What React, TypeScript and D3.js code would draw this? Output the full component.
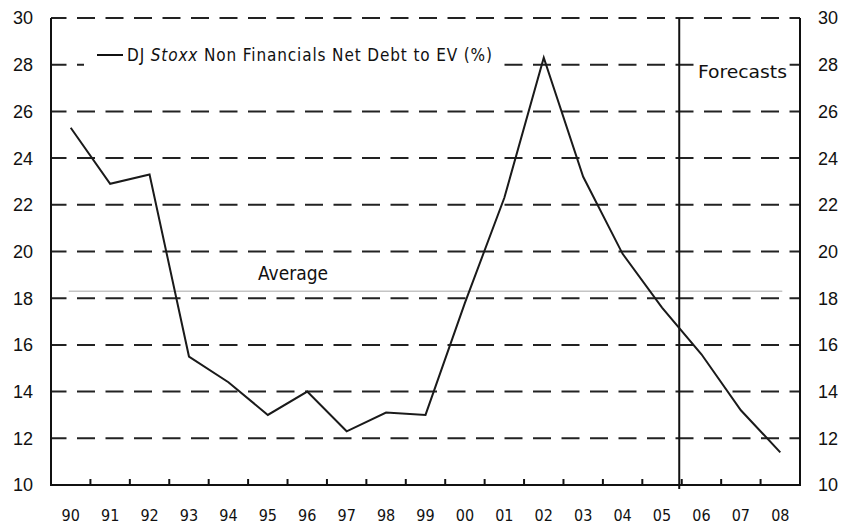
import React, { useEffect, useRef } from "react";
import * as d3 from "d3";

// years on the x axis
const years = ["90", "91", "92", "93", "94", "95", "96", "97", "98", "99", "00", "01", "02", "03", "04", "05", "06", "07", "08"];
// DJ Stoxx non financials net debt to EV (%)
const netDebtToEv = [25.3, 22.9, 23.3, 15.5, 14.4, 13.0, 14.0, 12.3, 13.1, 13.0, 17.8, 22.3, 28.3, 23.2, 19.9, 17.6, 15.6, 13.2, 11.4];
const averageValue = 18.3;
const yTicks = [10, 12, 14, 16, 18, 20, 22, 24, 26, 28, 30];
const gridValues = [12, 14, 16, 18, 20, 22, 24, 26, 28, 30];
const forecastFrom = "06";

const W = 842;
const H = 525;

const Chart = () => {
  const svgRef = useRef<SVGSVGElement>(null);

  useEffect(() => {
    const left = 51;
    const right = 800;
    const top = 18;
    const bottom = 485;
    const font = "'Liberation Sans Narrow', 'DejaVu Sans Condensed', 'Liberation Sans', sans-serif";

    const x = d3.scaleBand().domain(years).range([left, right]);
    const xc = (d: string) => (x(d) as number) + x.bandwidth() / 2;
    const y = d3.scaleLinear().domain([10, 30]).range([bottom, top]);

    const svg = d3.select(svgRef.current);
    svg.selectAll("*").remove();

    svg.append("rect").attr("width", W).attr("height", H).attr("fill", "white");

    // dashed gridlines
    svg.append("g")
      .selectAll("line")
      .data(gridValues)
      .enter()
      .append("line")
      .attr("x1", left).attr("x2", right)
      .attr("y1", d => y(d)).attr("y2", d => y(d))
      .attr("stroke", "#222").attr("stroke-width", 2)
      .attr("stroke-dasharray", "18,10.5").attr("stroke-dashoffset", 2.5);

    // average line
    svg.append("line")
      .attr("x1", xc(years[0]) - 2).attr("x2", xc(years[years.length - 1]) + 2)
      .attr("y1", y(averageValue)).attr("y2", y(averageValue))
      .attr("stroke", "#c4c4c4").attr("stroke-width", 1.6);

    svg.append("text")
      .attr("x", 258).attr("y", y(averageValue) - 11)
      .attr("font-family", font).attr("font-size", 19)
      .attr("fill", "#111")
      .text("Average");

    // axes frame
    const axis = svg.append("g").attr("stroke", "#111").attr("stroke-width", 2);
    axis.append("line").attr("x1", left).attr("x2", left).attr("y1", top).attr("y2", bottom + 1);
    axis.append("line").attr("x1", right).attr("x2", right).attr("y1", top).attr("y2", bottom + 1);
    axis.append("line").attr("x1", left).attr("x2", right).attr("y1", bottom).attr("y2", bottom);

    // x ticks at band boundaries
    axis.selectAll(".xt")
      .data(years.slice(1))
      .enter()
      .append("line")
      .attr("x1", d => x(d) as number).attr("x2", d => x(d) as number)
      .attr("y1", bottom).attr("y2", bottom - 6);

    // forecast divider
    const fx = (x(forecastFrom) as number) - 2.5;
    axis.append("line").attr("x1", fx).attr("x2", fx).attr("y1", top).attr("y2", bottom + 4);

    // y labels, both sides
    svg.append("g")
      .selectAll("text")
      .data(yTicks)
      .enter()
      .append("text")
      .attr("x", 33).attr("y", d => y(d))
      .attr("dy", "0.36em").attr("text-anchor", "end")
      .attr("font-family", "'Liberation Sans', Arial, sans-serif").attr("font-size", 18)
      .attr("fill", "#111")
      .text(d => d);

    svg.append("g")
      .selectAll("text")
      .data(yTicks)
      .enter()
      .append("text")
      .attr("x", 818).attr("y", d => y(d))
      .attr("dy", "0.36em").attr("text-anchor", "start")
      .attr("font-family", "'Liberation Sans', Arial, sans-serif").attr("font-size", 18)
      .attr("fill", "#111")
      .text(d => d);

    // x labels
    svg.append("g")
      .selectAll("text")
      .data(years)
      .enter()
      .append("text")
      .attr("x", d => xc(d)).attr("y", 515)
      .attr("dy", "0.36em").attr("text-anchor", "middle")
      .attr("font-family", font).attr("font-size", 16)
      .attr("fill", "#111")
      .text(d => d);

    // data line
    const line = d3.line<number>()
      .x((_, i) => xc(years[i]))
      .y(d => y(d));

    svg.append("path")
      .datum(netDebtToEv)
      .attr("fill", "none")
      .attr("stroke", "#1a1a1a")
      .attr("stroke-width", 2)
      .attr("stroke-linejoin", "miter")
      .attr("d", line);

    // legend with white box over the gridline
    svg.append("rect")
      .attr("x", 84).attr("y", 42).attr("width", 418).attr("height", 28)
      .attr("fill", "white");
    svg.append("line")
      .attr("x1", 97).attr("x2", 123).attr("y1", 55).attr("y2", 55)
      .attr("stroke", "#111").attr("stroke-width", 2);
    const legend = svg.append("text")
      .attr("x", 127).attr("y", 55).attr("dy", "0.36em")
      .attr("font-family", font).attr("font-size", 17)
      .attr("fill", "#111")
      .attr("textLength", 365).attr("lengthAdjust", "spacing");
    legend.append("tspan").text("DJ ");
    legend.append("tspan").attr("font-style", "italic").text("Stoxx");
    legend.append("tspan").text(" Non Financials Net Debt to EV (%)");

    // forecasts label
    svg.append("rect")
      .attr("x", fx + 16).attr("y", 60).attr("width", 94).attr("height", 22)
      .attr("fill", "white");
    svg.append("text")
      .attr("x", 698).attr("y", 72).attr("dy", "0.36em")
      .attr("font-family", font).attr("font-size", 18)
      .attr("fill", "#111")
      .attr("textLength", 89).attr("lengthAdjust", "spacingAndGlyphs")
      .text("Forecasts");
  }, []);

  return <svg ref={svgRef} width={W} height={H} style={{ position: "absolute", left: 0, top: 0, display: "block" }} />;
};

export default function App() {
  return <Chart />;
}
